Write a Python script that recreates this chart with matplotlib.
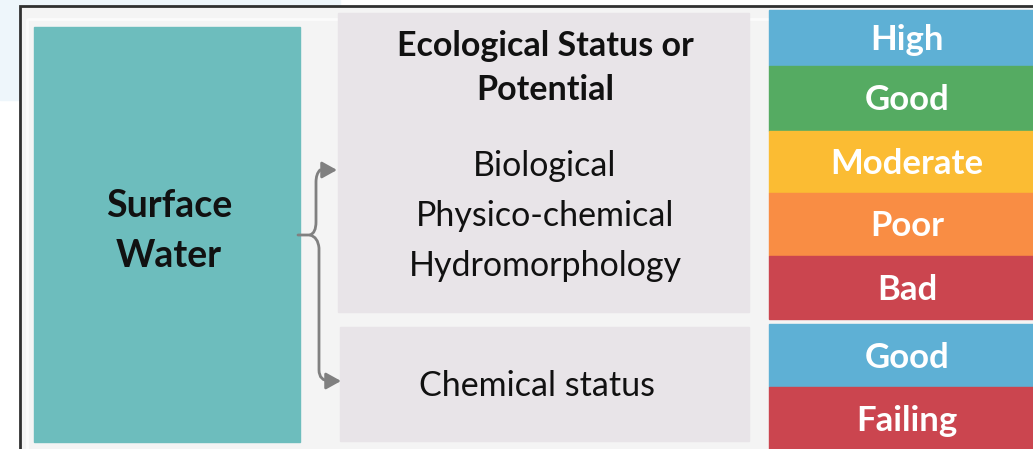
import matplotlib
matplotlib.use("Agg")
import matplotlib.pyplot as plt
from matplotlib.patches import Rectangle, FancyArrowPatch
from matplotlib.path import Path

plt.rcParams["font.family"] = ["Lato", "DejaVu Sans"]

# --- content -------------------------------------------------------------
source_label = "Surface\nWater"
eco_title = "Ecological Status or\nPotential"
eco_elements = ["Biological", "Physico-chemical", "Hydromorphology"]
chem_label = "Chemical status"

eco_classes = ["High", "Good", "Moderate", "Poor", "Bad"]
eco_colors = ["#5eb0d5", "#55ab62", "#fbbc33", "#f98d44", "#cb454f"]
chem_classes = ["Good", "Failing"]
chem_colors = ["#5eb0d5", "#cb454f"]

W, H = 1033, 449
fig = plt.figure(figsize=(W / 100, H / 100), dpi=100)
ax = fig.add_axes([0, 0, 1, 1])
ax.set_xlim(0, W)
ax.set_ylim(H, 0)
ax.axis("off")

# background pieces
ax.add_patch(Rectangle((0, 0), 340, 100, color="#eef6fb", zorder=0))
ax.add_patch(Rectangle((20, 6), W, H, facecolor="#f4f4f4",
                       edgecolor="#303030", lw=2, zorder=1))
ax.add_patch(Rectangle((27, 19), W, H, facecolor="none",
                       edgecolor="#fbfbfb", lw=2, zorder=1))

# surface water box
ax.add_patch(Rectangle((34, 27), 266, 415, color="#6dbdbd", zorder=2))
ax.text(169, 231, source_label, ha="center", va="center", fontsize=27,
        fontweight="bold", color="#111111", linespacing=1.55, zorder=3)

# ecological and chemical panels
ax.add_patch(Rectangle((338, 13), 411, 299, color="#e8e4e8", zorder=2))
ax.add_patch(Rectangle((340, 327), 409, 114, color="#e8e4e8", zorder=2))
ax.text(545, 68, eco_title, ha="center", va="center", fontsize=24.5,
        fontweight="bold", color="#111111", linespacing=1.45, zorder=3)
for i, t in enumerate(eco_elements):
    ax.text(545, 166 + 50 * i, t, ha="center", va="center", fontsize=24.5,
            color="#111111", zorder=3)
ax.text(537, 386, chem_label, ha="center", va="center", fontsize=24.5,
        color="#111111", zorder=3)

# status class boxes
x0, bw = 769, W - 769
eco_edges = [10, 66, 131, 193, 256, 319]
for i, (lab, col) in enumerate(zip(eco_classes, eco_colors)):
    y0, y1 = eco_edges[i], eco_edges[i + 1]
    ax.add_patch(Rectangle((x0, y0), bw, y1 - y0, color=col, zorder=2))
    ax.text(x0 + bw / 2 + 6, (y0 + y1) / 2 + 2, lab, ha="center", va="center",
            fontsize=25, fontweight="bold", color="white", zorder=3)
chem_edges = [324, 387, 449]
for i, (lab, col) in enumerate(zip(chem_classes, chem_colors)):
    y0, y1 = chem_edges[i], chem_edges[i + 1]
    ax.add_patch(Rectangle((x0, y0), bw, y1 - y0, color=col, zorder=2))
    ax.text(x0 + bw / 2 + 6, (y0 + y1) / 2 + 3, lab, ha="center", va="center",
            fontsize=25, fontweight="bold", color="white", zorder=3)

# bracket arrows
grey = "#808080"
up = Path([(298, 235), (310, 235), (316, 233), (316, 222),
           (316, 182), (316, 174), (320, 170), (337, 170)],
          [Path.MOVETO, Path.LINETO, Path.CURVE3, Path.CURVE3,
           Path.LINETO, Path.CURVE3, Path.CURVE3, Path.LINETO])
down = Path([(310, 235), (318, 237), (319, 248),
             (319, 370), (319, 381), (330, 381), (341, 381)],
            [Path.MOVETO, Path.CURVE3, Path.CURVE3,
             Path.LINETO, Path.CURVE3, Path.CURVE3, Path.LINETO])
for p in (up, down):
    ax.add_patch(FancyArrowPatch(path=p, arrowstyle="-|>,head_length=9,head_width=5",
                                 color=grey, lw=2, zorder=4))

fig.savefig("out.png", dpi=100)
